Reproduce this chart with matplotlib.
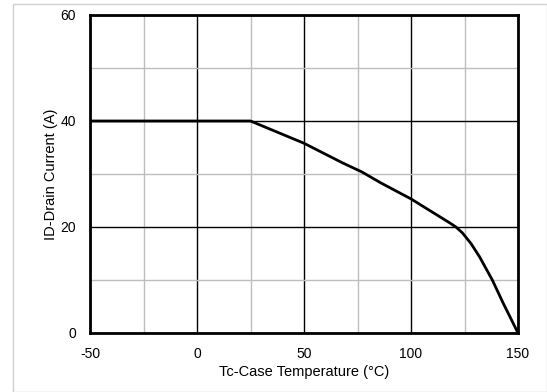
import numpy as np
import matplotlib.pyplot as plt
from matplotlib.patches import Rectangle

# Derating: corrente di drain vs temperatura del case
temp_c = [-50, 25, 50, 68, 77, 86, 100, 110, 118, 121, 124, 128, 132, 138, 143, 150]
drain_a = [40, 40, 35.8, 32.1, 30.4, 28.3, 25.3, 22.8, 20.8, 20.0, 18.9, 16.9, 14.4, 10.0, 5.7, 0]

x_major = [-50, 0, 50, 100, 150]
x_minor = [-25, 25, 75, 125]
y_major = [0, 20, 40, 60]
y_minor = [10, 30, 50]

plt.rcParams['font.family'] = ['Liberation Sans', 'DejaVu Sans']
plt.rcParams['axes.unicode_minus'] = False

W, H = 547, 392
fig = plt.figure(figsize=(W / 100, H / 100), dpi=100)
ax = fig.add_axes([90 / W, 1 - 333 / H, (518 - 90) / W, (333 - 15) / H])

# cornice grigia chiara attorno alla figura
fig.patches.append(Rectangle((13 / W, 0.5 / H), 1 - 13.5 / W, 1 - 4.5 / H,
                             transform=fig.transFigure, fill=False,
                             edgecolor='#d0d0d0', linewidth=1))

ax.plot(temp_c, drain_a, color='black', linewidth=2, zorder=3)

ax.set_xlim(-50, 150)
ax.set_ylim(0, 60)
ax.set_xticks(x_major)
ax.set_xticks(x_minor, minor=True)
ax.set_yticks(y_major)
ax.set_yticks(y_minor, minor=True)
ax.grid(True, which='major', color='black', linewidth=1)
ax.grid(True, which='minor', color='#bdbdbd', linewidth=1)
ax.tick_params(which='both', length=0, labelsize=10)
ax.tick_params(axis='x', pad=10)
ax.tick_params(axis='y', pad=10)

for s in ax.spines.values():
    s.set_linewidth(2)

ax.set_xlabel('Tc-Case Temperature (\u00b0C)', fontsize=10.5, labelpad=3)
ax.set_ylabel('ID-Drain Current (A)', fontsize=10.5, labelpad=2)

plt.savefig('out.png', dpi=100)
